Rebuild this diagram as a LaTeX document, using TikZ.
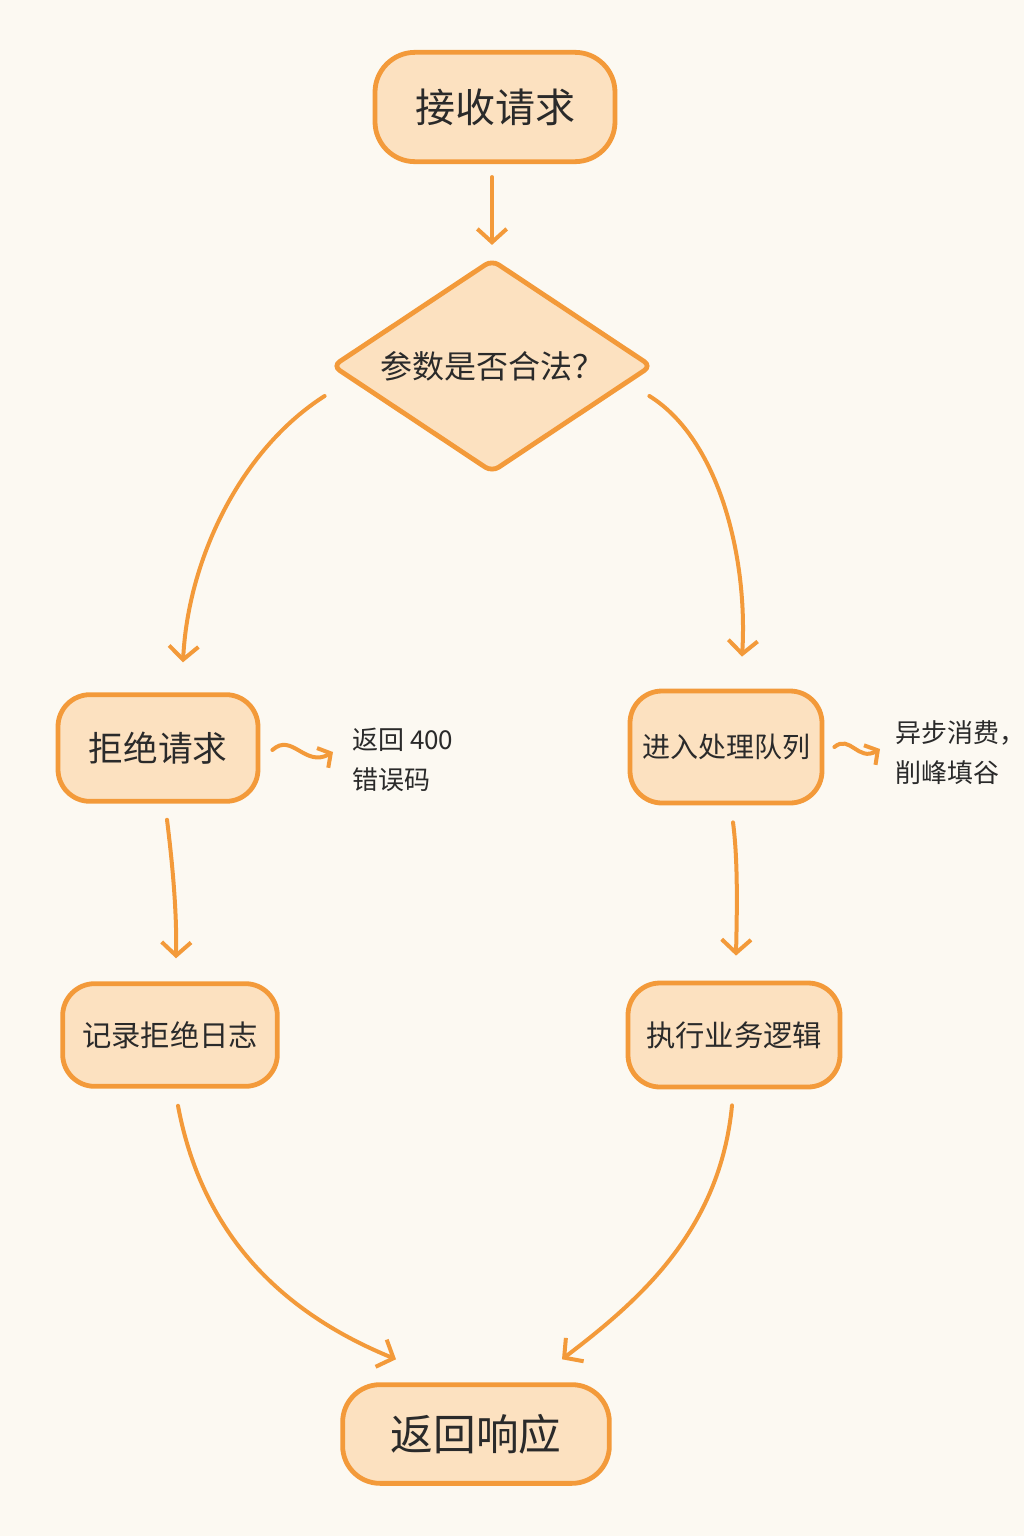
\documentclass[tikz,border=0pt]{standalone}
\usepackage{fontspec}
\newfontfamily\cjk{Noto Sans CJK SC}
\usetikzlibrary{shapes.geometric,arrows.meta,calc}
\definecolor{bg}{HTML}{FCF9F2}
\definecolor{edge}{HTML}{F39A3A}
\definecolor{boxfill}{HTML}{FCE1C0}
\definecolor{ink}{HTML}{2A2A2A}
\tikzset{
  stepbox/.style={draw=edge, fill=boxfill, line width=3.6pt, rounded corners=24pt, inner sep=0pt, text=ink, font=\cjk},
  decbox/.style={draw=edge, fill=boxfill, line width=3.6pt, diamond, aspect=1.5, rounded corners=6pt, inner sep=0pt, text=ink, font=\cjk},
  note/.style={text=ink, font=\cjk, align=left, inner sep=0pt},
  arr/.style={draw=edge, line width=3pt, line cap=round, -{Straight Barb[length=10pt,width=22pt,line width=3pt]}},
  sq/.style={draw=edge, line width=3pt, line cap=round, -{Straight Barb[length=7pt,width=17pt,line width=3pt]}}
}
\begin{document}
\begin{tikzpicture}[x=0.75pt,y=-0.75pt]
\fill[bg] (0,0) rectangle (1024,1536);
\useasboundingbox (0,0) rectangle (1024,1536);

\node[stepbox, minimum width=180pt, minimum height=82pt, rounded corners=30pt, font=\cjk\fontsize{30}{36}\selectfont] (recv) at (495,107) {接收请求};
\node[decbox, minimum width=240pt, minimum height=160pt, font=\cjk\fontsize{24}{28}\selectfont] (chk) at (492,366) {参数是否合法？};
\node[stepbox, minimum width=150pt, minimum height=80pt, font=\cjk\fontsize{26}{32}\selectfont] (rej) at (158,748) {拒绝请求};
\node[stepbox, minimum width=144pt, minimum height=84pt, font=\cjk\fontsize{21}{26}\selectfont] (queue) at (726,747) {进入处理队列};
\node[stepbox, minimum width=161pt, minimum height=77pt, font=\cjk\fontsize{22}{27}\selectfont] (log) at (170,1035) {记录拒绝日志};
\node[stepbox, minimum width=159pt, minimum height=78pt, font=\cjk\fontsize{22}{27}\selectfont] (exec) at (734,1035) {执行业务逻辑};
\node[stepbox, minimum width=200pt, minimum height=74pt, rounded corners=28pt, font=\cjk\fontsize{32}{38}\selectfont] (resp) at (476,1434) {返回响应};

\node[note, font=\cjk\fontsize{19.5}{30}\selectfont, anchor=west] (n1) at (352,760) {返回 400\\错误码};
\node[note, font=\cjk\fontsize{19.5}{30}\selectfont, anchor=west] (n2) at (895,753) {异步消费，\\削峰填谷};

\draw[arr] ($(recv.south)+(-3,13)$) -- ($(chk.north)+(0,-12)$);
\draw[arr] ($(chk.west)+(-5,30)$) .. controls (240,450) and (188,560) .. ($(rej.north)+(25,-30)$);
\draw[arr] ($(chk.east)+(-5,30)$) .. controls (720,440) and (748,560) .. ($(queue.north)+(16,-32)$);
\draw[arr] ($(rej.south)+(9,16)$) .. controls (172,860) and (177,910) .. ($(log.north)+(6,-23)$);
\draw[arr] ($(queue.south)+(7,17)$) .. controls (738,860) and (737,910) .. ($(exec.north)+(2,-25)$);
\draw[arr] ($(log.south)+(8,17)$) .. controls (205,1250) and (300,1320) .. ($(resp.north)+(-80,-23)$);
\draw[arr] ($(exec.south)+(-2,16)$) .. controls (720,1230) and (640,1300) .. ($(resp.north)+(86,-23)$);

\draw[sq] ($(rej.east)+(12,2)$) .. controls (292,732) and (305,768) .. ($(n1.west)+(-19,-8)$);
\draw[sq] ($(queue.east)+(10,0)$) .. controls (850,734) and (858,762) .. ($(n2.west)+(-15,-4)$);
\end{tikzpicture}
\end{document}
